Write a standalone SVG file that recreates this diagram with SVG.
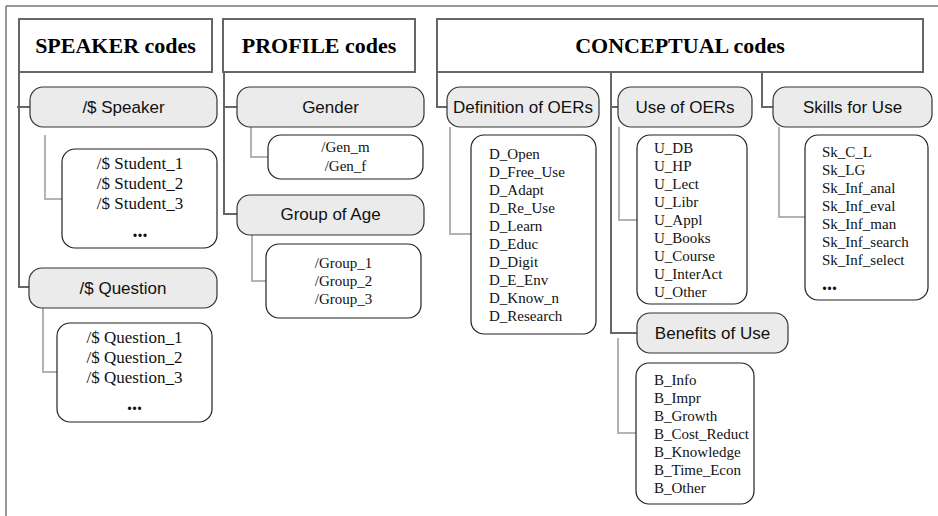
<svg xmlns="http://www.w3.org/2000/svg" width="938" height="516" viewBox="0 0 938 516">
<style>
.hdr{fill:#fff;stroke:#666;stroke-width:2}
.hdrt{font-family:"Liberation Serif",serif;font-weight:bold;font-size:22px;fill:#000;text-anchor:middle}
.cat{fill:#ebebeb;stroke:#333;stroke-width:1.2}
.catt{font-family:"Liberation Sans",Arial,sans-serif;font-size:17px;fill:#111;text-anchor:middle}
.lst{fill:#fff;stroke:#222;stroke-width:1.2}
.it{font-family:"Liberation Serif",serif;font-size:15px;fill:#111}
.itc{font-family:"Liberation Serif",serif;font-size:17px;fill:#111;text-anchor:middle}
.dots{font-family:"Liberation Serif",serif;font-size:20px;font-weight:bold;fill:#111}
.dk{fill:none;stroke:#666;stroke-width:2}
.lt{fill:none;stroke:#b3b3b3;stroke-width:2}
</style>
<rect width="938" height="516" fill="#fff"/>
<path d="M6,516 V6 H938" fill="none" stroke="#333" stroke-width="1"/>

<g id="connectors">
  <path class="dk" d="M19,72 V287 H30 M17,107 H30"/>
  <path class="lt" d="M45,135 V199 H62"/>
  <path class="lt" d="M43,308 V372 H57"/>
  <path class="dk" d="M224,72 V214 H237 M224,107 H237"/>
  <path class="lt" d="M251,127 V157 H268"/>
  <path class="lt" d="M252,235 V281 H266"/>
  <path class="dk" d="M437,72 V107 H447"/>
  <path class="dk" d="M611,72 V333 H637 M611,107 H618"/>
  <path class="dk" d="M762,72 V107 H773"/>
  <path class="lt" d="M450,127 V234 H471"/>
  <path class="lt" d="M619,127 V220 H637"/>
  <path class="lt" d="M618,338 V433 H636"/>
  <path class="lt" d="M779,127 V217 H805"/>
</g>

<g id="speaker-codes">
  <rect class="hdr" x="19" y="19" width="193" height="53"/>
  <text class="hdrt" x="115.5" y="53">SPEAKER codes</text>
</g>
<g id="profile-codes">
  <rect class="hdr" x="223" y="19" width="192" height="53"/>
  <text class="hdrt" x="319" y="53">PROFILE codes</text>
</g>
<g id="conceptual-codes">
  <rect class="hdr" x="437" y="19" width="486" height="53"/>
  <text class="hdrt" x="680" y="53">CONCEPTUAL codes</text>
</g>

<g id="speaker">
  <rect class="cat" x="30" y="87" width="187" height="40" rx="13"/>
  <text class="catt" x="123.5" y="113">/$ Speaker</text>
</g>
<g id="students">
  <rect class="lst" x="62" y="149" width="155" height="99" rx="13"/>
  <text class="itc" x="140" y="169">/$ Student_1</text>
  <text class="itc" x="140" y="189">/$ Student_2</text>
  <text class="itc" x="140" y="209">/$ Student_3</text>
  <text class="dots" x="140" y="237" text-anchor="middle">...</text>
</g>
<g id="question">
  <rect class="cat" x="29" y="268" width="188" height="40" rx="13"/>
  <text class="catt" x="123" y="294">/$ Question</text>
</g>
<g id="questions">
  <rect class="lst" x="57" y="323" width="155" height="99" rx="13"/>
  <text class="itc" x="134.5" y="343">/$ Question_1</text>
  <text class="itc" x="134.5" y="363">/$ Question_2</text>
  <text class="itc" x="134.5" y="383">/$ Question_3</text>
  <text class="dots" x="134.5" y="410" text-anchor="middle">...</text>
</g>

<g id="gender">
  <rect class="cat" x="237" y="87" width="187" height="40" rx="13"/>
  <text class="catt" x="330.5" y="113">Gender</text>
</g>
<g id="gender-values">
  <rect class="lst" x="268" y="135" width="155" height="44" rx="13"/>
  <text class="it" x="345.5" y="152" text-anchor="middle">/Gen_m</text>
  <text class="it" x="345.5" y="171" text-anchor="middle">/Gen_f</text>
</g>
<g id="group-of-age">
  <rect class="cat" x="237" y="195" width="187" height="40" rx="13"/>
  <text class="catt" x="330.5" y="220">Group of Age</text>
</g>
<g id="group-values">
  <rect class="lst" x="266" y="244" width="155" height="74" rx="13"/>
  <text class="it" x="343.5" y="268" text-anchor="middle">/Group_1</text>
  <text class="it" x="343.5" y="286" text-anchor="middle">/Group_2</text>
  <text class="it" x="343.5" y="304" text-anchor="middle">/Group_3</text>
</g>

<g id="definition">
  <rect class="cat" x="447" y="87" width="152" height="40" rx="13"/>
  <text class="catt" x="523" y="113">Definition of OERs</text>
</g>
<g id="definition-codes">
  <rect class="lst" x="471" y="135" width="125" height="199" rx="13"/>
  <text class="it" x="489" y="159">D_Open</text>
  <text class="it" x="489" y="177">D_Free_Use</text>
  <text class="it" x="489" y="195">D_Adapt</text>
  <text class="it" x="489" y="213">D_Re_Use</text>
  <text class="it" x="489" y="231">D_Learn</text>
  <text class="it" x="489" y="249">D_Educ</text>
  <text class="it" x="489" y="267">D_Digit</text>
  <text class="it" x="489" y="285">D_E_Env</text>
  <text class="it" x="489" y="303">D_Know_n</text>
  <text class="it" x="489" y="321">D_Research</text>
</g>

<g id="use">
  <rect class="cat" x="618" y="87" width="134" height="40" rx="13"/>
  <text class="catt" x="685" y="113">Use of OERs</text>
</g>
<g id="use-codes">
  <rect class="lst" x="637" y="135" width="110" height="169" rx="13"/>
  <text class="it" x="654" y="153">U_DB</text>
  <text class="it" x="654" y="171">U_HP</text>
  <text class="it" x="654" y="189">U_Lect</text>
  <text class="it" x="654" y="207">U_Libr</text>
  <text class="it" x="654" y="225">U_Appl</text>
  <text class="it" x="654" y="243">U_Books</text>
  <text class="it" x="654" y="261">U_Course</text>
  <text class="it" x="654" y="279">U_InterAct</text>
  <text class="it" x="654" y="297">U_Other</text>
</g>

<g id="benefits">
  <rect class="cat" x="637" y="313" width="151" height="40" rx="13"/>
  <text class="catt" x="712.5" y="339">Benefits of Use</text>
</g>
<g id="benefit-codes">
  <rect class="lst" x="636" y="363" width="118" height="141" rx="13"/>
  <text class="it" x="654" y="385">B_Info</text>
  <text class="it" x="654" y="403">B_Impr</text>
  <text class="it" x="654" y="421">B_Growth</text>
  <text class="it" x="654" y="439">B_Cost_Reduct</text>
  <text class="it" x="654" y="457">B_Knowledge</text>
  <text class="it" x="654" y="475">B_Time_Econ</text>
  <text class="it" x="654" y="493">B_Other</text>
</g>

<g id="skills">
  <rect class="cat" x="773" y="87" width="159" height="40" rx="13"/>
  <text class="catt" x="852.5" y="113">Skills for Use</text>
</g>
<g id="skill-codes">
  <rect class="lst" x="805" y="135" width="123" height="165" rx="13"/>
  <text class="it" x="822" y="157">Sk_C_L</text>
  <text class="it" x="822" y="175">Sk_LG</text>
  <text class="it" x="822" y="193">Sk_Inf_anal</text>
  <text class="it" x="822" y="211">Sk_Inf_eval</text>
  <text class="it" x="822" y="229">Sk_Inf_man</text>
  <text class="it" x="822" y="247">Sk_Inf_search</text>
  <text class="it" x="822" y="265">Sk_Inf_select</text>
  <text class="dots" x="822" y="290">...</text>
</g>
</svg>
